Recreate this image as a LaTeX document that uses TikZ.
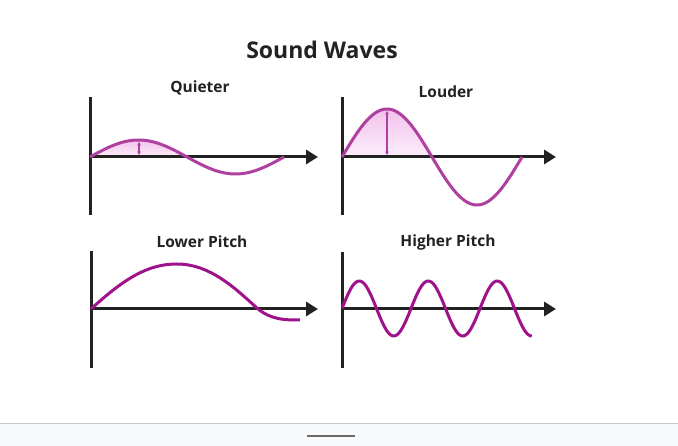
\documentclass[tikz,border=0pt]{standalone}
\usepackage{fontspec}
\setmainfont{Open Sans}
\usetikzlibrary{arrows.meta}
\definecolor{axiscol}{HTML}{222222}
\definecolor{wavelight}{HTML}{B0409F}
\definecolor{wavedark}{HTML}{A0128C}
\definecolor{pinktop}{HTML}{F2C2EC}
\definecolor{pinkbot}{HTML}{FCEEFA}
\definecolor{footbg}{HTML}{F8F9FB}
\definecolor{footline}{HTML}{C8C8C8}
\definecolor{footbar}{HTML}{6B6B6B}
\begin{document}
\begin{tikzpicture}[x=1pt,y=-1pt,
  axisline/.style={draw=axiscol,line width=3pt},
  axisarrow/.style={axisline,-{Triangle[length=12pt,width=14pt]}},
  wavelt/.style={draw=wavelight,line width=3pt},
  wavedk/.style={draw=wavedark,line width=3pt},
  amp/.style={draw=wavelight,line width=1.2pt,{Stealth[length=3.5pt,width=3.5pt]}-{Stealth[length=3.5pt,width=3.5pt]}},
  ttl/.style={font=\bfseries\fontsize{23}{27}\selectfont,text=axiscol},
  lbl/.style={font=\bfseries\fontsize{15.5}{18}\selectfont,text=axiscol}]
\useasboundingbox (0,0) rectangle (678,446);
\fill[white] (0,0) rectangle (678,446);
% footer
\fill[footbg] (0,424) rectangle (678,446);
\draw[footline,line width=1pt] (0,424) -- (678,424);
\draw[footbar,line width=2pt] (307,436) -- (355,436);
% title
\node[ttl] (title) at (322,50) {Sound Waves};
\node[lbl] (lq) at (200,88) {Quieter};
\node[lbl] (ll) at (446,92) {Louder};
\node[lbl] (llp) at (202,242) {Lower Pitch};
\node[lbl] (lhp) at (448,242) {Higher Pitch};
% ---------- Quieter
\coordinate (q0) at (90,157);
\coordinate (qtop) at (90,97);
\coordinate (qbot) at (90,215);
\coordinate (qend) at (318,157);
\shade[top color=pinktop,bottom color=pinkbot] plot[domain=90:187,samples=40] (\x,{157-17*sin((\x-90)/194*360)}) -- cycle;
\draw[axisline] (qtop) -- (qbot);
\draw[axisarrow] (q0) -- (qend);
\draw[wavelt] plot[domain=90:284,samples=80] (\x,{157-17*sin((\x-90)/194*360)});
\coordinate (qa1) at (139,142);
\coordinate (qa2) at (139,155);
\draw[amp] (qa1) -- (qa2);
% ---------- Louder
\coordinate (l0) at (342,157);
\coordinate (ltop) at (342,97);
\coordinate (lbot) at (342,215);
\coordinate (lend) at (556,157);
\shade[top color=pinktop,bottom color=pinkbot] plot[domain=342:432,samples=40] (\x,{157-48*sin((\x-342)/180*360)}) -- cycle;
\draw[axisline] (ltop) -- (lbot);
\draw[axisarrow] (l0) -- (lend);
\draw[wavelt] plot[domain=342:522,samples=90] (\x,{157-48*sin((\x-342)/180*360)});
\coordinate (la1) at (387,111);
\coordinate (la2) at (387,155);
\draw[amp] (la1) -- (la2);
% ---------- Lower pitch
\coordinate (p0) at (91,309);
\coordinate (ptop) at (91,251);
\coordinate (pbot) at (91,368);
\coordinate (pend) at (318,309);
\draw[axisline] (ptop) -- (pbot);
\draw[axisarrow] (p0) -- (pend);
\draw[wavedk] (91,309) .. controls (125,278) and (148,264) .. (177,264)
  .. controls (210,264) and (235,288) .. (258,309)
  .. controls (272,320) and (285,320) .. (300,320);
% ---------- Higher pitch
\coordinate (h0) at (342,309);
\coordinate (htop) at (342,252);
\coordinate (hbot) at (342,368);
\coordinate (hend) at (556,309);
\draw[axisline] (htop) -- (hbot);
\draw[axisarrow] (h0) -- (hend);
\draw[wavedk] plot[domain=342:531.75,samples=150] (\x,{308.5-27.5*sin((\x-342)/69*360)});
\end{tikzpicture}
\end{document}
